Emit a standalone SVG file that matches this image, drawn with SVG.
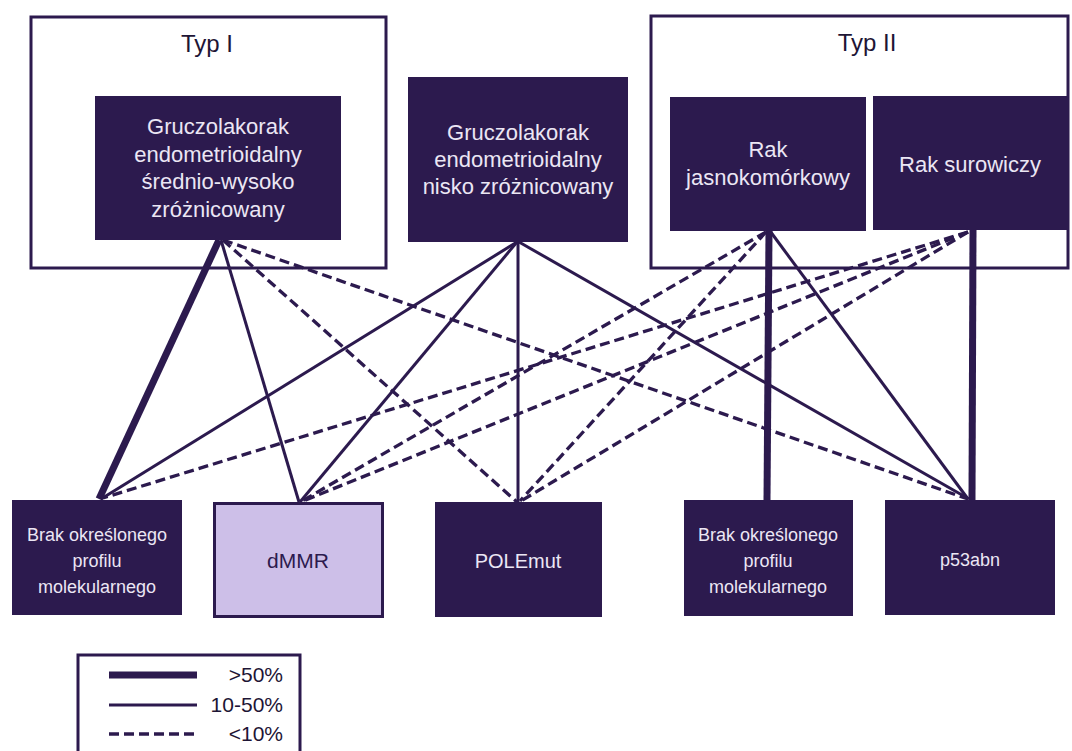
<svg xmlns="http://www.w3.org/2000/svg" width="1072" height="751" viewBox="0 0 1072 751">
<style>
.bg{fill:#ffffff}
.group{fill:none;stroke:#2c1a4e;stroke-width:3}
.node{fill:#2c1a4e}
.light{fill:#cdbfe8;stroke:#2c1a4e;stroke-width:3}
.t{font-family:"Liberation Sans",Arial,sans-serif;fill:#ebe6f4;text-anchor:middle}
.td{font-family:"Liberation Sans",Arial,sans-serif;fill:#2c1a4e;text-anchor:middle}
.big{font-size:22px}
.sm{font-size:18px}
.title{font-family:"Liberation Sans",Arial,sans-serif;fill:#1e1535;font-size:24px;text-anchor:middle}
.thick{stroke:#2c1a4e;stroke-width:7;fill:none}
.thin{stroke:#2c1a4e;stroke-width:3;fill:none}
.dash{stroke:#2c1a4e;stroke-width:3.3;fill:none;stroke-dasharray:10 5}
.leg{font-family:"Liberation Sans",Arial,sans-serif;fill:#1e1535;font-size:21px;text-anchor:end}
</style>
<rect class="bg" x="0" y="0" width="1072" height="751"/>

<g id="typ1">
<rect class="group" x="31" y="17" width="355" height="251"/>
<text class="title" x="207" y="52">Typ I</text>
</g>
<g id="typ2">
<rect class="group" x="651" y="16" width="417" height="252"/>
<text class="title" x="867" y="51">Typ II</text>
</g>

<g id="connectors">
<line class="thick" x1="219" y1="240" x2="99" y2="499"/>
<line class="thin" x1="221" y1="240" x2="299" y2="502"/>
<line class="dash" x1="223" y1="240" x2="517" y2="502"/>
<line class="dash" x1="223" y1="240" x2="968" y2="499"/>
<line class="thin" x1="517" y1="242" x2="101" y2="499"/>
<line class="thin" x1="517" y1="242" x2="300" y2="502"/>
<line class="thin" x1="518" y1="242" x2="518" y2="502"/>
<line class="thin" x1="519" y1="242" x2="969" y2="499"/>
<line class="thick" x1="769" y1="231" x2="767" y2="500"/>
<line class="thin" x1="770" y1="231" x2="968" y2="499"/>
<line class="dash" x1="766" y1="232" x2="302" y2="501"/>
<line class="dash" x1="766" y1="232" x2="520" y2="501"/>
<line class="thick" x1="973" y1="230" x2="972" y2="500"/>
<line class="dash" x1="968" y1="232" x2="103" y2="498"/>
<line class="dash" x1="968" y1="232" x2="303" y2="501"/>
<line class="dash" x1="968" y1="232" x2="521" y2="501"/>
</g>

<g id="n-g12">
<rect class="node" x="95" y="96" width="246" height="144"/>
<text class="t big" x="218" y="134">Gruczolakorak</text>
<text class="t big" x="218" y="161.5">endometrioidalny</text>
<text class="t big" x="218" y="189">średnio-wysoko</text>
<text class="t big" x="218" y="216.5">zróżnicowany</text>
</g>
<g id="n-g3">
<rect class="node" x="408" y="77" width="220" height="165"/>
<text class="t big" x="518" y="140">Gruczolakorak</text>
<text class="t big" x="518" y="167">endometrioidalny</text>
<text class="t big" x="518" y="194">nisko zróżnicowany</text>
</g>
<g id="n-clear">
<rect class="node" x="670" y="97" width="196" height="134"/>
<text class="t big" x="768" y="157">Rak</text>
<text class="t big" x="768" y="185">jasnokomórkowy</text>
</g>
<g id="n-serous">
<rect class="node" x="873" y="96" width="195" height="134"/>
<text class="t big" x="970" y="172">Rak surowiczy</text>
</g>

<g id="n-nsmp1">
<rect class="node" x="12" y="500" width="170" height="115"/>
<text class="t sm" x="97" y="541">Brak określonego</text>
<text class="t sm" x="97" y="567">profilu</text>
<text class="t sm" x="97" y="593">molekularnego</text>
</g>
<g id="n-dmmr">
<rect class="light" x="214.5" y="503.5" width="168" height="113"/>
<text class="td" x="298" y="568" font-size="21">dMMR</text>
</g>
<g id="n-pole">
<rect class="node" x="435" y="502" width="167" height="115"/>
<text class="t" x="518" y="568" font-size="20">POLEmut</text>
</g>
<g id="n-nsmp2">
<rect class="node" x="684" y="500" width="169" height="116"/>
<text class="t sm" x="768" y="541">Brak określonego</text>
<text class="t sm" x="768" y="567">profilu</text>
<text class="t sm" x="768" y="593">molekularnego</text>
</g>
<g id="n-p53">
<rect class="node" x="885" y="500" width="170" height="115"/>
<text class="t sm" x="970" y="566">p53abn</text>
</g>

<g id="legend">
<rect class="group" x="78" y="655" width="222" height="110"/>
<line class="thick" x1="109" y1="675" x2="197" y2="675" stroke-width="7"/>
<line class="thin" x1="109" y1="705" x2="197" y2="705"/>
<line class="dash" x1="109" y1="734" x2="197" y2="734"/>
<text class="leg" x="283" y="682">&gt;50%</text>
<text class="leg" x="283" y="712">10-50%</text>
<text class="leg" x="283" y="741">&lt;10%</text>
</g>
</svg>
